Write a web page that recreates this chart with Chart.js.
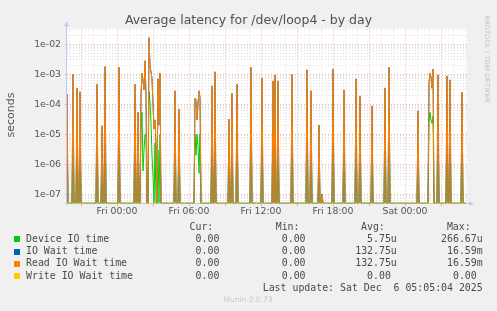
<!DOCTYPE html>
<html>
<head>
<meta charset="utf-8">
<script src="https://cdn.jsdelivr.net/npm/chart.js@4/dist/chart.umd.min.js"></script>
<style>
html,body{margin:0;padding:0;background:#f0f0f0;}
#wrap{position:relative;width:497px;height:311px;overflow:hidden;background:#f0f0f0;}
#c{position:absolute;left:0;top:0;}
.t{position:absolute;white-space:pre;}
</style>
</head>
<body>
<div id="wrap"><canvas id="c" width="497" height="311"></canvas></div>
<script>
// ---- data (5-minute slots, slot 0 = Thu 19:50, slot 50 = Fri 00:00) ----
const nSlots = 400;
const xTickLabels = ['Fri 00:00', 'Fri 06:00', 'Fri 12:00', 'Fri 18:00', 'Sat 00:00'];
const yTickLabels = ['1e-07', '1e-06', '1e-05', '1e-04', '1e-03', '1e-02'];

// Read IO Wait time (seconds), non-zero slots only
const readSlots = [0, 6, 10, 13, 30, 35, 38, 52, 68, 71, 74, 75, 76, 77, 78, 79, 82, 83, 84, 85, 86, 87, 88, 89, 91, 92, 93,
  108, 112, 128, 129, 130, 131, 132, 133, 145, 148, 162, 165, 170, 184, 195, 206, 208, 211, 225, 240, 244, 252, 255,
  266, 277, 289, 293, 305, 318, 322, 351, 362, 363, 364, 365, 366, 371, 380, 383, 395];
const readValues = [2.2e-4, 1.0e-3, 3.5e-4, 2.6e-4, 4.6e-4, 1.9e-5, 1.8e-3, 1.7e-3, 4.6e-4, 5.5e-5, 2.0e-4, 1.1e-3, 6.0e-4, 3.0e-4, 2.8e-3, 2.0e-4, 1.659e-2, 1.8e-3, 1.2e-3, 7.0e-4, 1.0e-4, 1.5e-5, 3.0e-5, 5.0e-6, 7.0e-4, 2.0e-5, 1.1e-3,
  2.8e-4, 6.8e-5, 1.6e-4, 1.4e-4, 3.0e-5, 1.0e-4, 2.8e-4, 1.7e-4, 4.1e-4, 1.2e-3, 3.2e-5, 2.3e-4, 4.6e-4, 1.7e-3, 7.4e-4, 6.0e-4, 9.5e-4, 6.0e-4, 1.0e-3, 1.4e-3, 2.8e-4, 2.0e-5, 1.0e-7,
  1.5e-3, 3.0e-4, 7.0e-4, 1.9e-4, 8.8e-5, 3.5e-4, 1.7e-3, 6.0e-5, 5.0e-4, 1.1e-3, 8.0e-4, 3.4e-4, 1.5e-3, 9.5e-4, 8.8e-4, 6.5e-4, 2.5e-4];

// IO Wait time is identical to Read IO Wait time (same avg / max in the legend)
const ioWaitSlots = readSlots;
const ioWaitValues = readValues;

// Device IO time (seconds)
const deviceSlots = [0, 6, 10, 13, 30, 35, 38, 52, 68, 71, 74, 75, 76, 77, 78, 79, 82, 83, 84, 85, 86, 88, 91, 93,
  108, 112, 128, 129, 130, 131, 132, 133, 145, 148, 162, 165, 170, 184, 195, 206, 208, 211, 225, 240, 244, 252, 255,
  266, 277, 289, 293, 305, 318, 322, 351, 362, 363, 364, 365, 366, 371, 380, 383, 395];
const deviceValues = [1.2e-5, 1.6e-5, 2.0e-5, 1.0e-5, 2.5e-5, 2.0e-6, 6.0e-5, 5.0e-5, 3.0e-5, 4.0e-6, 1.5e-5, 5.4e-5, 6.0e-7, 3.0e-6, 1.0e-5, 8.0e-6, 2.6667e-4, 1.2e-4, 2.5e-5, 2.0e-6, 4.0e-7, 5.0e-6, 3.0e-6, 1.0e-5,
  2.0e-5, 5.0e-6, 1.0e-5, 2.0e-6, 1.0e-5, 4.0e-6, 5.0e-7, 1.0e-5, 2.5e-5, 5.0e-5, 3.0e-6, 1.5e-5, 2.0e-5, 6.0e-5, 3.0e-5, 2.5e-5, 1.3e-5, 2.0e-5, 4.0e-5, 5.0e-5, 1.5e-5, 2.0e-6, 1.0e-7,
  5.0e-5, 1.5e-5, 3.0e-5, 1.0e-5, 6.0e-6, 2.0e-5, 6.0e-5, 5.0e-6, 2.5e-5, 5.4e-5, 3.0e-5, 2.3e-5, 4.0e-5, 4.0e-5, 3.5e-5, 3.0e-5, 1.5e-5];

// Write IO Wait time: always zero
const writeSlots = [];
const writeValues = [];

// Legend table
const legendLabels = ['Device IO time', 'IO Wait time', 'Read IO Wait time', 'Write IO Wait time'];
const curValues = ['0.00', '0.00', '0.00', '0.00'];
const minValues = ['0.00', '0.00', '0.00', '0.00'];
const avgValues = ['5.75u', '132.75u', '132.75u', '0.00'];
const maxValues = ['266.67u', '16.59m', '16.59m', '0.00'];
const lastUpdate = 'Last update: Sat Dec  6 05:05:04 2025';

// ---- styling ----
const seriesColors = ['#00CC00', '#0066B3', '#FF8000', '#FFCC00'];
const yMin = 5e-8, yMax = 3.4e-2;
const MAJOR = 'rgba(235,120,120,0.6)';
const MINOR = 'rgba(175,175,175,0.42)';

function buildSeries(slots, values) {
  const v = new Array(nSlots).fill(0);
  slots.forEach((s, i) => { v[s] = values[i]; });
  // zero readings sit on the bottom of the log axis
  return v.map((y, x) => ({ x: x, y: y > 0 ? y : yMin }));
}

const hourTicks = [];
for (let h = -4; h <= 29; h++) hourTicks.push(50 + 12 * h);
const yTicks = [];
for (let e = -8; e <= -2; e++) for (let m = 1; m <= 9; m++) {
  const v = parseFloat(m + 'e' + e);
  if (v >= yMin * 0.999 && v <= yMax) yTicks.push(v);
}
function isDecade(v) { const l = Math.log10(v); return Math.abs(l - Math.round(l)) < 1e-6; }
function isMajorHour(v) { return ((v - 50) / 12) % 3 === 0; }

const base = { borderWidth: 1, pointRadius: 0, tension: 0, fill: false, spanGaps: true };

const plotDecor = {
  id: 'plotDecor',
  beforeDraw(c) {
    const a = c.chartArea, g = c.ctx;
    g.save(); g.fillStyle = '#ffffff';
    g.fillRect(a.left, a.top, a.right - a.left, a.bottom - a.top);
    g.restore();
  },
  beforeDatasetsDraw(c) {
    const a = c.chartArea, g = c.ctx;
    g.save();
    g.strokeStyle = '#c4c8f0'; g.fillStyle = '#c4c8f0'; g.lineWidth = 1;
    const x = Math.round(a.left) - 0.5, y = Math.round(a.bottom) - 0.5 + 1;
    g.beginPath(); g.moveTo(x, a.bottom + 2); g.lineTo(x, a.top - 3); g.stroke();
    g.beginPath(); g.moveTo(x - 2.5, a.top - 2); g.lineTo(x + 2.5, a.top - 2); g.lineTo(x, a.top - 7); g.closePath(); g.fill();
    g.beginPath(); g.moveTo(a.left - 2, y); g.lineTo(a.right + 3, y); g.stroke();
    g.beginPath(); g.moveTo(a.right + 2, y - 2.5); g.lineTo(a.right + 2, y + 2.5); g.lineTo(a.right + 7, y); g.closePath(); g.fill();
    g.restore();
  }
};

new Chart(document.getElementById('c'), {
  type: 'line',
  data: {
    datasets: [
      Object.assign({ label: legendLabels[0], data: buildSeries(deviceSlots, deviceValues), borderColor: seriesColors[0], order: 4 }, base),
      Object.assign({ label: legendLabels[1], data: buildSeries(ioWaitSlots, ioWaitValues), borderColor: seriesColors[1], order: 3 }, base),
      Object.assign({ label: legendLabels[2], data: buildSeries(readSlots, readValues), borderColor: seriesColors[2], order: 2 }, base),
      Object.assign({ label: legendLabels[3], data: buildSeries(writeSlots, writeValues), borderColor: seriesColors[3], order: 1 }, base)
    ]
  },
  options: {
    responsive: false, animation: false, devicePixelRatio: 1, events: [],
    layout: { padding: { left: 0, right: 30, top: 28.3, bottom: 0 } },
    plugins: { legend: { display: false }, tooltip: { enabled: false }, title: { display: false } },
    scales: {
      x: {
        type: 'linear', min: 0, max: nSlots,
        afterBuildTicks: s => { s.ticks = hourTicks.map(v => ({ value: v })); },
        afterFit: s => { s.height = 311 - 203.3; },
        ticks: {
          autoSkip: false, maxRotation: 0, padding: 0, color: '#555',
          font: { family: 'DejaVu Sans', size: 9.3 },
          callback: v => { const h = (v - 50) / 12; return (h % 6 === 0 && h >= 0) ? xTickLabels[h / 6] : ''; }
        },
        grid: {
          color: ctx => (ctx.tick && isMajorHour(ctx.tick.value)) ? MAJOR : MINOR,
          tickColor: ctx => (ctx.tick && isMajorHour(ctx.tick.value)) ? MAJOR : 'rgba(0,0,0,0)',
          tickLength: 3, lineWidth: 1
        },
        border: { display: false, dash: [1, 2] }
      },
      y: {
        type: 'logarithmic', min: yMin, max: yMax,
        afterBuildTicks: s => { s.ticks = yTicks.map(v => ({ value: v })); },
        afterFit: s => { s.width = 67; },
        ticks: {
          autoSkip: false, padding: 4, color: '#555',
          font: { family: 'DejaVu Sans', size: 9.3 },
          callback: v => { if (!isDecade(v)) return ''; const r = Math.round(Math.log10(v)); return yTickLabels[r + 7] || ''; }
        },
        grid: {
          color: ctx => (ctx.tick && isDecade(ctx.tick.value)) ? MAJOR : MINOR,
          tickColor: ctx => (ctx.tick && isDecade(ctx.tick.value)) ? MAJOR : 'rgba(0,0,0,0)',
          tickLength: 2, lineWidth: 1
        },
        border: { display: false, dash: [1, 2] }
      }
    }
  },
  plugins: [plotDecor]
});

// ---- texts ----
const wrap = document.getElementById('wrap');
const ASC = 0.928, LH = 1.164;
function addText(txt, opt) {
  const d = document.createElement('div');
  d.className = 't';
  d.textContent = txt;
  const f = opt.size;
  d.style.fontFamily = opt.family;
  d.style.fontSize = f + 'px';
  d.style.lineHeight = (LH * f) + 'px';
  d.style.color = opt.color;
  d.style.top = (opt.baseline - ASC * f) + 'px';
  if (opt.right !== undefined) { d.style.right = (497 - opt.right) + 'px'; d.style.textAlign = 'right'; }
  else if (opt.center !== undefined) { d.style.left = (opt.center - 200) + 'px'; d.style.width = '400px'; d.style.textAlign = 'center'; }
  else d.style.left = opt.left + 'px';
  wrap.appendChild(d);
  return d;
}
const SANS = '"DejaVu Sans", sans-serif', MONO = '"DejaVu Sans Mono", monospace';
addText('Average latency for /dev/loop4 - by day', { family: SANS, size: 12.5, color: '#505050', baseline: 24.3, center: 248.5 });

// y axis title (rotated)
const yt = document.createElement('div');
yt.className = 't'; yt.textContent = 'seconds';
Object.assign(yt.style, { fontFamily: SANS, fontSize: '11px', lineHeight: '14px', color: '#555', width: '100px', height: '14px', textAlign: 'center', left: (11.3 - 50) + 'px', top: (114.5 - 7) + 'px', transform: 'rotate(-90deg)' });
wrap.appendChild(yt);

// rrdtool watermark
const wm = document.createElement('div');
wm.className = 't'; wm.textContent = 'RRDTOOL / TOBI OETIKER';
Object.assign(wm.style, { fontFamily: SANS, fontSize: '6.8px', lineHeight: '10px', color: '#c4c4c4', width: '120px', height: '10px', textAlign: 'center', left: (487 - 60) + 'px', top: (58.5 - 5) + 'px', transform: 'rotate(90deg)' });
wrap.appendChild(wm);

// legend table
const MF = 9.9, TXT = '#4a4a4a';
const colRight = [225.3, 311.5, 396.8, 482.7];
const headers = ['Cur:', 'Min:', 'Avg:', 'Max:'];
const baselines = [230.3, 242.4, 254.5, 266.6, 278.7, 290.8];
headers.forEach((h, i) => addText(h, { family: MONO, size: MF, color: TXT, baseline: baselines[0], right: colRight[i] - 12 }));
function fmt(v) { return /[a-zA-Z]$/.test(v) ? v : v + '\u00a0'; }
legendLabels.forEach((lab, r) => {
  const b = baselines[r + 1];
  const sq = document.createElement('div');
  Object.assign(sq.style, { position: 'absolute', left: '14px', top: (b - 6) + 'px', width: '6px', height: '6px', background: seriesColors[r] });
  wrap.appendChild(sq);
  addText(lab, { family: MONO, size: MF, color: TXT, baseline: b, left: 26 });
  [curValues, minValues, avgValues, maxValues].forEach((arr, c) => {
    addText(fmt(arr[r]), { family: MONO, size: MF, color: TXT, baseline: b, right: colRight[c] });
  });
});
addText(lastUpdate, { family: MONO, size: MF, color: TXT, baseline: baselines[5], right: 482.7 });
addText('Munin 2.0.73', { family: SANS, size: 7.5, color: '#c8c8c8', baseline: 302.7, center: 248 });
</script>
</body>
</html>
